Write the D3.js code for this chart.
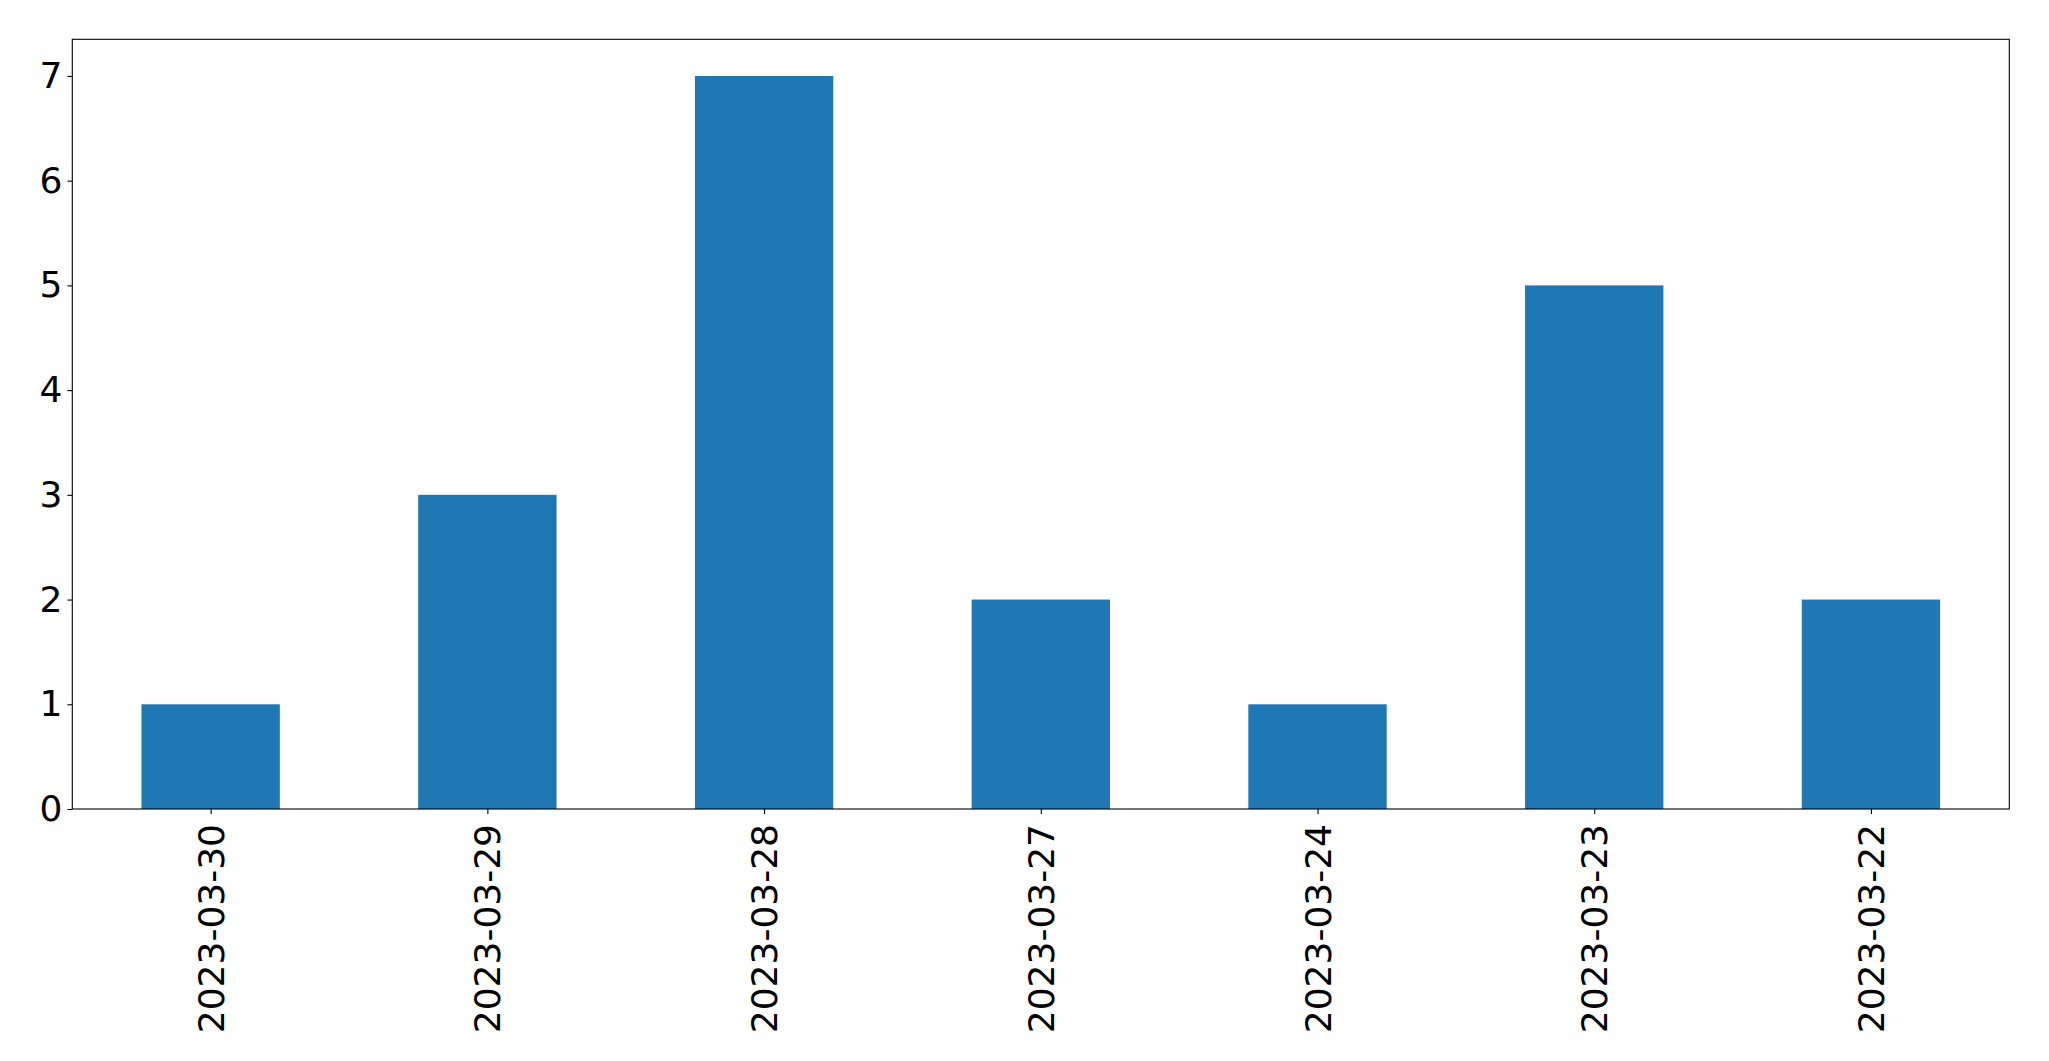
<!DOCTYPE html>
<html>
<head>
<meta charset="utf-8">
<script src="https://cdn.jsdelivr.net/npm/d3@7"></script>
<style>
  html, body { margin: 0; padding: 0; background: #fff; }
  svg { display: block; }
  text { font-family: "DejaVu Sans", sans-serif; fill: #000; }
</style>
</head>
<body>
<svg id="chart" width="2049" height="1061"></svg>
<script>
const categories = ["2023-03-30", "2023-03-29", "2023-03-28", "2023-03-27", "2023-03-24", "2023-03-23", "2023-03-22"];
const values = [1, 3, 7, 2, 1, 5, 2];
const yTicks = [0, 1, 2, 3, 4, 5, 6, 7];

const W = 2049, H = 1061;
const margin = { left: 72.3, right: W - 2009.3, top: 39.3, bottom: H - 809 };
const plotW = W - margin.left - margin.right;
const plotH = H - margin.top - margin.bottom;

const svg = d3.select("#chart");
const g = svg.append("g").attr("transform", `translate(${margin.left},${margin.top})`);

const x = d3.scaleLinear().domain([-0.5, categories.length - 0.5]).range([0, plotW]);
const y = d3.scaleLinear().domain([0, d3.max(values) * 1.05]).range([plotH, 0]);
const barW = x(0.25) - x(-0.25);

g.selectAll("rect.bar").data(values).enter().append("rect")
  .attr("class", "bar")
  .attr("x", (d, i) => x(i) - barW / 2)
  .attr("width", barW)
  .attr("y", d => y(d))
  .attr("height", d => y(0) - y(d))
  .attr("fill", "#1f77b4");

// Y axis
const yAxis = d3.axisLeft(y).tickValues(yTicks).tickFormat(d3.format("d")).tickSize(4.9).tickPadding(4.9);
const ya = g.append("g").call(yAxis);
ya.select(".domain").remove();
ya.selectAll(".tick line").attr("stroke", "#000").attr("stroke-width", 1.1);
ya.selectAll(".tick text").attr("font-size", 36).attr("font-family", "DejaVu Sans, sans-serif").attr("fill", "#000");

// X axis
const xAxis = d3.axisBottom(x).tickValues(d3.range(categories.length)).tickFormat(i => categories[i]).tickSize(4.9).tickPadding(0);
const xa = g.append("g").attr("transform", `translate(0,${plotH})`).call(xAxis);
xa.select(".domain").remove();
xa.selectAll(".tick line").attr("stroke", "#000").attr("stroke-width", 1.1);
xa.selectAll(".tick text")
  .attr("font-size", 36)
  .attr("font-family", "DejaVu Sans, sans-serif")
  .attr("fill", "#000")
  .attr("dy", null)
  .attr("y", 0)
  .attr("text-anchor", "end")
  .attr("transform", "translate(12.6,15) rotate(-90)");

// Frame
g.append("rect").attr("x", 0).attr("y", 0).attr("width", plotW).attr("height", plotH)
  .attr("fill", "none").attr("stroke", "#000").attr("stroke-width", 1.1);
</script>
</body>
</html>
